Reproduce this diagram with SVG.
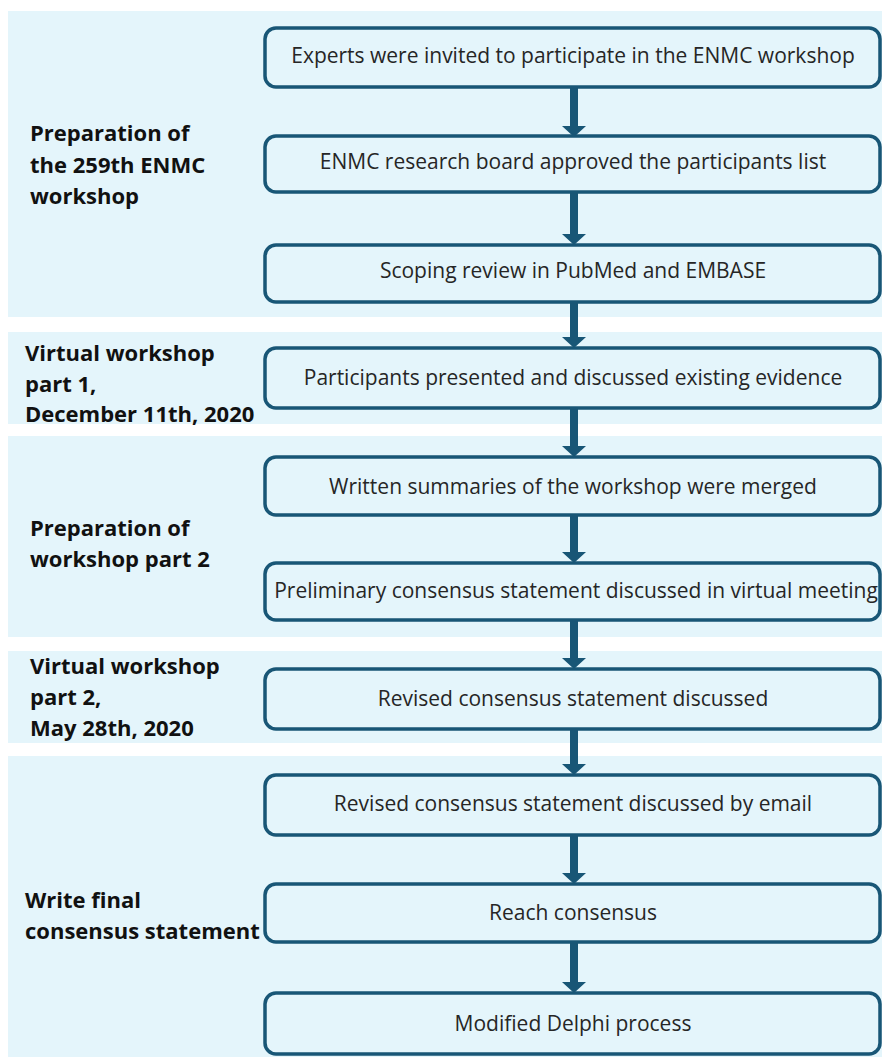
<svg xmlns="http://www.w3.org/2000/svg" width="882" height="1057" viewBox="0 0 882 1057">
<defs>
<style>
.band{fill:#e4f5fb}
.box{fill:#e4f5fb;stroke:#185676;stroke-width:3.5}
.bt{font-family:"Open Sans","Liberation Sans",sans-serif;font-size:21px;fill:#262626;text-anchor:middle;dominant-baseline:central}
.lab{font-family:"Open Sans","Liberation Sans",sans-serif;font-size:22px;font-weight:bold;fill:#111}
.arr{fill:#185676}
</style>
</defs>
<rect width="882" height="1057" fill="#ffffff"/>
<g id="bands">
<rect class="band" x="8" y="11" width="874" height="306"/>
<rect class="band" x="8" y="332" width="874" height="92"/>
<rect class="band" x="8" y="436" width="874" height="201"/>
<rect class="band" x="8" y="651" width="874" height="92"/>
<rect class="band" x="8" y="756" width="874" height="301"/>
</g>
<g id="labels">
<text class="lab" x="30" y="141">Preparation of</text>
<text class="lab" x="30" y="173">the 259th ENMC</text>
<text class="lab" x="30" y="204">workshop</text>
<text class="lab" x="25" y="361">Virtual workshop</text>
<text class="lab" x="25" y="392">part 1,</text>
<text class="lab" x="25" y="422">December 11th, 2020</text>
<text class="lab" x="30" y="536">Preparation of</text>
<text class="lab" x="30" y="567">workshop part 2</text>
<text class="lab" x="30" y="674">Virtual workshop</text>
<text class="lab" x="30" y="705">part 2,</text>
<text class="lab" x="30" y="736">May 28th, 2020</text>
<text class="lab" x="25" y="908">Write final</text>
<text class="lab" x="25" y="939">consensus statement</text>
</g>
<g id="connectors">
<path class="arr" d="M570 88 h8 v38 h8 l-12 11 l-12 -11 h8 z"/>
<path class="arr" d="M570 193 h8 v41 h8 l-12 11 l-12 -11 h8 z"/>
<path class="arr" d="M570 302 h8 v35 h8 l-12 11 l-12 -11 h8 z"/>
<path class="arr" d="M570 409 h8 v37 h8 l-12 11 l-12 -11 h8 z"/>
<path class="arr" d="M570 516 h8 v36 h8 l-12 11 l-12 -11 h8 z"/>
<path class="arr" d="M570 621 h8 v37 h8 l-12 11 l-12 -11 h8 z"/>
<path class="arr" d="M570 730 h8 v34 h8 l-12 11 l-12 -11 h8 z"/>
<path class="arr" d="M570 836 h8 v37 h8 l-12 11 l-12 -11 h8 z"/>
<path class="arr" d="M570 943 h8 v39 h8 l-12 11 l-12 -11 h8 z"/>
</g>
<g id="n1"><rect class="box" x="265" y="28" width="615" height="59" rx="11"/><text class="bt" x="573" y="55">Experts were invited to participate in the ENMC workshop</text></g>
<g id="n2"><rect class="box" x="265" y="136" width="615" height="56" rx="11"/><text class="bt" x="573" y="161">ENMC research board approved the participants list</text></g>
<g id="n3"><rect class="box" x="265" y="245" width="615" height="57" rx="11"/><text class="bt" x="573" y="270">Scoping review in PubMed and EMBASE</text></g>
<g id="n4"><rect class="box" x="265" y="348" width="615" height="60" rx="11"/><text class="bt" x="573" y="377">Participants presented and discussed existing evidence</text></g>
<g id="n5"><rect class="box" x="265" y="457" width="615" height="58" rx="11"/><text class="bt" x="573" y="486">Written summaries of the workshop were merged</text></g>
<g id="n6"><rect class="box" x="265" y="563" width="615" height="57" rx="11"/><text class="bt" x="576" y="590">Preliminary consensus statement discussed in virtual meeting</text></g>
<g id="n7"><rect class="box" x="265" y="669" width="615" height="60" rx="11"/><text class="bt" x="573" y="698">Revised consensus statement discussed</text></g>
<g id="n8"><rect class="box" x="265" y="775" width="615" height="60" rx="11"/><text class="bt" x="573" y="803">Revised consensus statement discussed by email</text></g>
<g id="n9"><rect class="box" x="265" y="884" width="615" height="58" rx="11"/><text class="bt" x="573" y="912">Reach consensus</text></g>
<g id="n10"><rect class="box" x="265" y="993" width="615" height="61" rx="11"/><text class="bt" x="573" y="1023">Modified Delphi process</text></g>
</svg>
